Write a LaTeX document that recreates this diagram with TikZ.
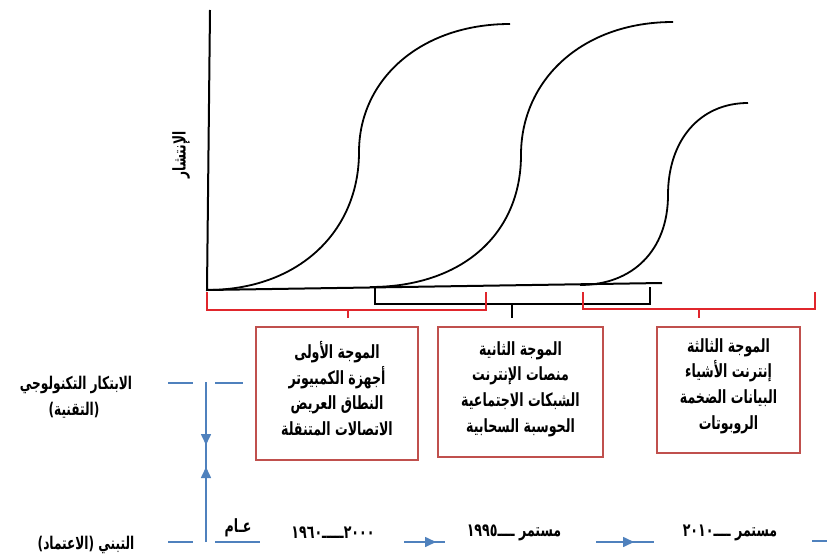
\documentclass[tikz,border=0pt]{standalone}
\usepackage{fontspec}
\usepackage{graphicx}
\TeXXeTstate=1
\newfontfamily\arabicfont[Script=Arabic]{DejaVu Sans Condensed}
\usetikzlibrary{arrows.meta}
\newcommand{\AR}[1]{\scalebox{1}[1.3]{\beginR #1\endR}}
\definecolor{boxred}{HTML}{C0504D}
\definecolor{bracered}{HTML}{E0262C}
\definecolor{lineblue}{HTML}{4F81BD}
\tikzset{
  axisline/.style={line width=2pt, black},
  scurve/.style={line width=1.8pt, black},
  redbrace/.style={line width=1.5pt, bracered},
  blackbrace/.style={line width=1.5pt, black},
  wavebox/.style={draw=boxred, line width=1.3pt, inner sep=0pt},
  wavetext/.style={align=center, inner sep=0pt,
    font=\arabicfont\bfseries\fontsize{14}{25.7}\selectfont},
  sidelabel/.style={font=\arabicfont\bfseries\fontsize{13.5}{14}\selectfont, inner sep=0pt},
  yearlabel/.style={font=\arabicfont\bfseries\fontsize{14}{12}\selectfont, inner sep=0pt},
  blueline/.style={line width=1.6pt, lineblue},
  bluearrow/.style={line width=1.6pt, lineblue, -{Triangle[length=11pt,width=10pt]}},
}
\begin{document}
\begin{tikzpicture}[x=1pt,y=-1pt]
\useasboundingbox (0,0) rectangle (827,559);
% axes
\coordinate (ytop) at (210,10);
\coordinate (origin) at (207,290);
\coordinate (xend) at (662,283);
\draw[axisline] (ytop) -- (origin) -- (xend);
\node[sidelabel, rotate=90] (diff) at (181,155) {\AR{الإنتشار}};
% S curves
\draw[scurve] (207,290) .. controls (298,290) and (359,232) .. (359,152)
  .. controls (359,80) and (420,24) .. (510,24);
\draw[scurve] (370,287) .. controls (461,287) and (521,235) .. (521,155)
  .. controls (521,80) and (582,22) .. (673,22);
\draw[scurve] (580,285) .. controls (633,285) and (668,250) .. (668,195)
  .. controls (668,140) and (700,103) .. (748,103);
% braces
\draw[blackbrace] (375,287) -- (375,304) -- (650,304) -- (650,287);
\draw[blackbrace] (512,304) -- (512,318);
\draw[redbrace] (207,292) -- (207,310) -- (486,310) -- (486,292);
\draw[redbrace] (348,310) -- (348,318);
\draw[redbrace] (583,292) -- (583,309) -- (815,309) -- (815,292);
\draw[redbrace] (699,309) -- (699,318);
% boxes
\node[wavebox, minimum width=162pt, minimum height=133pt] (w1) at (337,393.5) {};
\node[wavebox, minimum width=165pt, minimum height=130pt] (w2) at (520.5,392) {};
\node[wavebox, minimum width=143pt, minimum height=126pt] (w3) at (728.5,390) {};
\node[wavetext] (w1t) at (337,388.5)
  {\AR{الموجة الأولى}\\\AR{أجهزة الكمبيوتر}\\\AR{النطاق العريض}\\\AR{الاتصالات المتنقلة}};
\node[wavetext] (w2t) at (520.5,389)
  {\AR{الموجة الثانية}\\\AR{منصات الإنترنت}\\\AR{الشبكات الاجتماعية}\\\AR{الحوسبة السحابية}};
\node[wavetext] (w3t) at (728.5,386)
  {\AR{الموجة الثالثة}\\\AR{إنترنت الأشياء}\\\AR{البيانات الضخمة}\\\AR{الروبوتات}};
% side labels
\node[sidelabel] (tech1) at (76,385) {\AR{الابتكار التكنولوجي}};
\node[sidelabel] (tech2) at (74,410) {\AR{(التقنية)}};
\node[sidelabel] (adopt) at (86,545) {\AR{التبني (الاعتماد)}};
% blue dashes
\coordinate (d1a) at (168,383); \coordinate (d1b) at (193,383);
\coordinate (d2a) at (215,383); \coordinate (d2b) at (243,383);
\coordinate (d3a) at (168,542); \coordinate (d3b) at (193,542);
\coordinate (d4a) at (215,542); \coordinate (d4b) at (260,542);
\coordinate (d5a) at (812,541); \coordinate (d5b) at (827,541);
\draw[blueline] (d1a) -- (d1b);
\draw[blueline] (d2a) -- (d2b);
\draw[blueline] (d3a) -- (d3b);
\draw[blueline] (d4a) -- (d4b);
\draw[blueline] (d5a) -- (d5b);
% vertical double arrow
\coordinate (vtop) at (206,382);
\coordinate (vbot) at (206,542);
\coordinate (vdown) at (206,445);
\coordinate (vup) at (206,467);
\draw[blueline] (vtop) -- (vbot);
\draw[bluearrow] (vtop) -- (vdown);
\draw[bluearrow] (vbot) -- (vup);
% timeline
\node[yearlabel] (year) at (238,528) {\AR{عـام}};
\node[yearlabel] (t1) at (333,533) {\AR{\beginL ٢٠٠٠\endL ـــــ\beginL ١٩٦٠\endL}};
\node[yearlabel] (t2) at (514,533) {\AR{مستمر ــــ\beginL ١٩٩٥\endL}};
\node[yearlabel] (t3) at (730,533) {\AR{مستمر ــــ\beginL ٢٠١٠\endL}};
\coordinate (a1s) at (404,542); \coordinate (a1t) at (436,542); \coordinate (a1e) at (445,542);
\coordinate (a2s) at (596,542); \coordinate (a2t) at (634,542); \coordinate (a2e) at (654,542);
\draw[blueline] (a1s) -- (a1e);
\draw[bluearrow] (a1s) -- (a1t);
\draw[blueline] (a2s) -- (a2e);
\draw[bluearrow] (a2s) -- (a2t);
\end{tikzpicture}
\end{document}
